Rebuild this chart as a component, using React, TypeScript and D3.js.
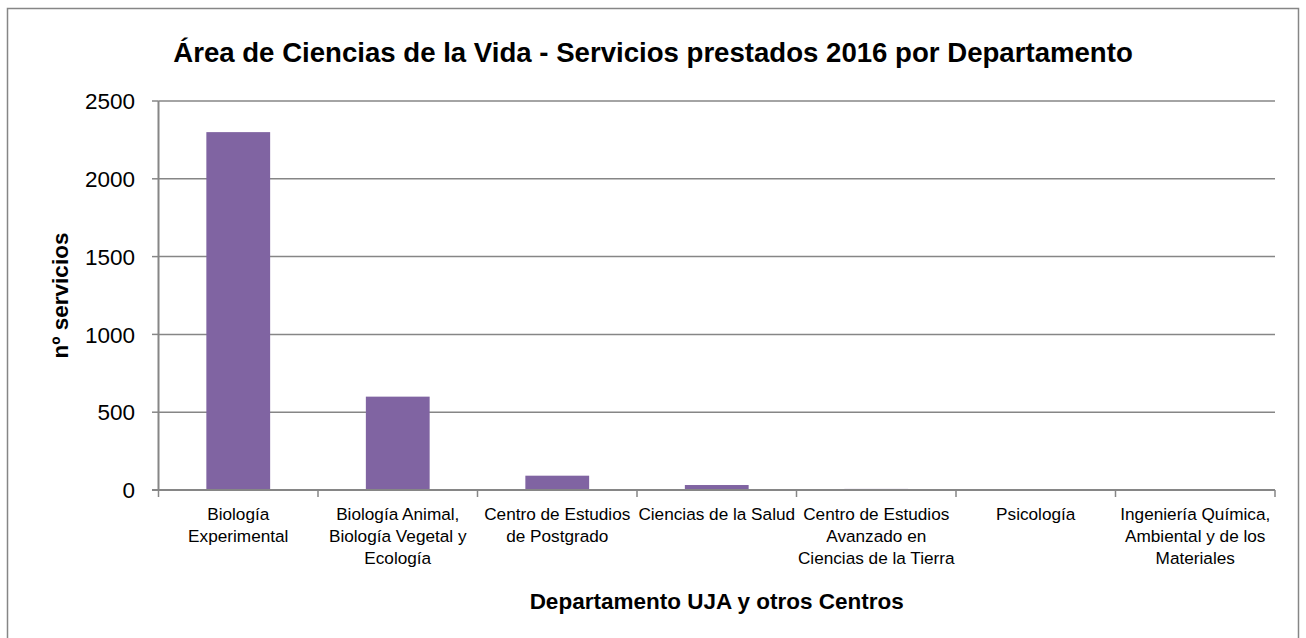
import React from "react";
import * as d3 from "d3";

const categories: string[][] = [
  ["Biología", "Experimental"],
  ["Biología Animal,", "Biología Vegetal y", "Ecología"],
  ["Centro de Estudios", "de Postgrado"],
  ["Ciencias de la Salud"],
  ["Centro de Estudios", "Avanzado en", "Ciencias de la Tierra"],
  ["Psicología"],
  ["Ingeniería Química,", "Ambiental y de los", "Materiales"],
];
const values: number[] = [2300, 600, 92, 32, 7, 6, 1];
const yTicks: number[] = [0, 500, 1000, 1500, 2000, 2500];

const title = "Área de Ciencias de la Vida - Servicios prestados 2016 por Departamento";
const xTitle = "Departamento UJA y otros Centros";
const yTitle = "nº servicios";

const W = 1306;
const H = 638;
const left = 158.5;
const right = 1275;
const top = 101;
const bottom = 490;
const gray = "#868686";
const font = "'Liberation Sans', Arial, sans-serif";

export default function App() {
  const keys = categories.map((_, i) => String(i));
  const x = d3.scaleBand<string>().domain(keys).range([left, right]).paddingInner(0.6).paddingOuter(0.3);
  const xOuter = d3.scaleBand<string>().domain(keys).range([left, right]);
  const y = d3.scaleLinear().domain([0, 2500]).range([bottom, top]);
  const boundaries = keys.map((k) => xOuter(k)!).concat([right]);

  return (
    <svg
      width={W}
      height={H}
      style={{ position: "absolute", left: 0, top: 0, background: "#fff" }}
      fontFamily={font}
    >
      <rect x={7.5} y={8.5} width={1291} height={660} fill="#fff" stroke={gray} strokeWidth={1.5} />
      <text x={653} y={62} textAnchor="middle" fontSize={27.6} fontWeight="bold" fill="#000">
        {title}
      </text>
      {yTicks.map((t) => (
        <g key={t}>
          {t > 0 && (
            <line x1={left} x2={right} y1={y(t)} y2={y(t)} stroke={gray} strokeWidth={1.5} />
          )}
          <line x1={152} x2={left} y1={y(t)} y2={y(t)} stroke={gray} strokeWidth={1.5} />
          <text x={135} y={y(t)} dy="0.36em" textAnchor="end" fontSize={22.5} fill="#000">
            {t}
          </text>
        </g>
      ))}
      {values.map((v, i) => (
        <rect
          key={i}
          x={x(String(i))}
          y={y(v)}
          width={x.bandwidth()}
          height={bottom - y(v)}
          fill="#8064A2"
        />
      ))}
      <line x1={left} x2={left} y1={top} y2={bottom} stroke={gray} strokeWidth={2} />
      <line x1={152} x2={right} y1={bottom} y2={bottom} stroke={gray} strokeWidth={2} />
      {boundaries.map((b, i) => (
        <line key={i} x1={b} x2={b} y1={bottom} y2={bottom + 7} stroke={gray} strokeWidth={1.5} />
      ))}
      {categories.map((lines, i) => {
        const cx = xOuter(String(i))! + xOuter.bandwidth() / 2;
        return (
          <text key={i} textAnchor="middle" fontSize={17.2} fill="#000">
            {lines.map((l, j) => (
              <tspan key={j} x={cx} y={520 + j * 22}>
                {l}
              </tspan>
            ))}
          </text>
        );
      })}
      <text x={(left + right) / 2} y={609} textAnchor="middle" fontSize={22.5} fontWeight="bold" fill="#000">
        {xTitle}
      </text>
      <text
        transform={`translate(68, ${(top + bottom) / 2}) rotate(-90)`}
        textAnchor="middle"
        fontSize={22.5}
        fontWeight="bold"
        fill="#000"
      >
        {yTitle}
      </text>
    </svg>
  );
}
